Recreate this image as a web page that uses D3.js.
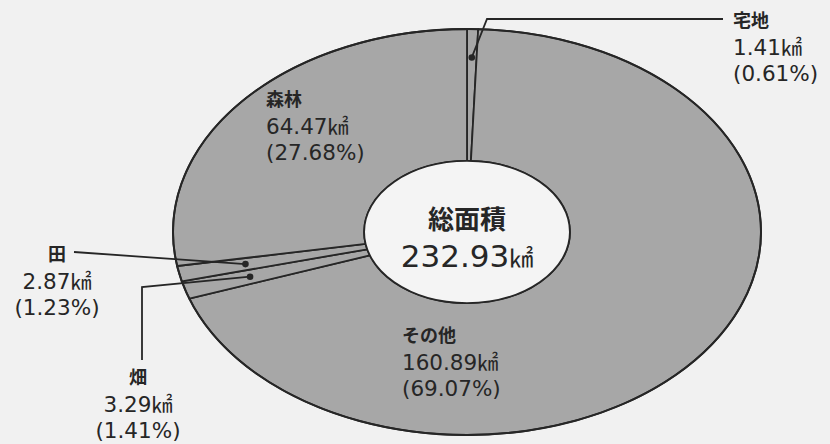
<!DOCTYPE html>
<html><head><meta charset="utf-8">
<script src="https://cdn.jsdelivr.net/npm/d3@7"></script>
<style>
html,body{margin:0;padding:0;background:#f1f1f1;}
svg{display:block;}
</style></head>
<body>
<svg id="chart" width="830" height="444"></svg>
<script>
// ---- data ----
const categories = ["宅地", "その他", "畑", "田", "森林"];
const areas = [1.41, 160.89, 3.29, 2.87, 64.47];
const percents = [0.61, 69.07, 1.41, 1.23, 27.68];
const totalLabel = "総面積";
const totalArea = 232.93;
const unit = "㎢";

// ---- layout ----
const W = 830, H = 444;
const cx = 467, cy = 232, rx = 294, ry = 203;
const R = 100, innerRatio = 0.35;
const bg = "#f1f1f1", fillGrey = "#a7a7a7", ink = "#262626";
const numFont = "'DejaVu Sans', 'Noto Sans CJK JP', sans-serif";
const jpFont = "'Noto Sans CJK JP', sans-serif";

const svg = d3.select("#chart");
svg.append("rect").attr("width", W).attr("height", H).attr("fill", bg);

const data = categories.map((c, i) => ({ name: c, area: areas[i], pct: percents[i] }));
const pie = d3.pie().sort(null).value(d => d.area).startAngle(0).endAngle(2 * Math.PI);
const arcs = pie(data);
const arc = d3.arc().innerRadius(R * innerRatio).outerRadius(R);

// elliptical scaling via linear scales
const sx = d3.scaleLinear().domain([-R, R]).range([cx - rx, cx + rx]);
const sy = d3.scaleLinear().domain([-R, R]).range([cy - ry, cy + ry]);

const g = svg.append("g")
  .attr("transform", `translate(${cx},${cy}) scale(${rx / R},${ry / R})`);

g.selectAll("path.slice").data(arcs).join("path")
  .attr("class", "slice")
  .attr("d", arc)
  .attr("fill", fillGrey)
  .attr("stroke", ink)
  .attr("stroke-width", 1.8)
  .attr("vector-effect", "non-scaling-stroke")
  .attr("stroke-linejoin", "round");

// inner hole
g.append("ellipse").attr("cx", 0).attr("cy", 0)
  .attr("rx", R * innerRatio).attr("ry", R * innerRatio)
  .attr("fill", "#f4f4f4").attr("stroke", ink).attr("stroke-width", 1.8)
  .attr("vector-effect", "non-scaling-stroke");

// outer outline
g.append("ellipse").attr("cx", 0).attr("cy", 0).attr("rx", R).attr("ry", R)
  .attr("fill", "none").attr("stroke", ink).attr("stroke-width", 2)
  .attr("vector-effect", "non-scaling-stroke");

// point on slice mid-angle at fraction f of radius
function midPoint(a, f) {
  const m = (a.startAngle + a.endAngle) / 2;
  return [sx(R * f * Math.sin(m)), sy(-R * f * Math.cos(m))];
}

// label layout (positions only)
const labelLayout = {
  "宅地":  { x: 733, y: 27,  anchor: "start",  dot: 0.86, leader: [[723, 19], [487, 19]] },
  "森林":  { x: 266, y: 106, anchor: "start",  dot: null },
  "田":    { x: 57,  y: 261, anchor: "middle", dot: 0.77, leader: [[74, 252]] },
  "畑":    { x: 138, y: 384, anchor: "middle", dot: 0.77, leader: [[142, 360], [142, 287]] },
  "その他": { x: 402, y: 342, anchor: "start",  dot: null }
};

const lineGap = [0, 27, 53];

arcs.forEach(a => {
  const L = labelLayout[a.data.name];
  if (L.dot) {
    const p = midPoint(a, L.dot);
    const pts = L.leader.concat([p]);
    svg.append("path")
      .attr("d", d3.line()(pts))
      .attr("fill", "none").attr("stroke", ink).attr("stroke-width", 1.8);
    svg.append("circle").attr("cx", p[0]).attr("cy", p[1]).attr("r", 3.3).attr("fill", ink);
  }
  const t = svg.append("text").attr("text-anchor", L.anchor).attr("fill", ink);
  t.append("tspan").attr("x", L.x).attr("y", L.y + lineGap[0])
    .attr("font-family", jpFont).attr("font-weight", 700).attr("font-size", 18)
    .text(a.data.name);
  const l2 = t.append("tspan").attr("x", L.x).attr("y", L.y + lineGap[1] + 1)
    .attr("font-family", numFont).attr("font-size", 21.5);
  l2.append("tspan").text(d3.format(".2f")(a.data.area));
  l2.append("tspan").attr("font-family", jpFont).attr("font-size", 21).text(unit);
  t.append("tspan").attr("x", L.x).attr("y", L.y + lineGap[2] + 1)
    .attr("font-family", numFont).attr("font-size", 21.5)
    .text(`(${d3.format(".2f")(a.data.pct)}%)`);
});

// center label (two separate texts)
svg.append("text").attr("text-anchor", "middle").attr("fill", ink)
  .attr("x", cx).attr("y", 229)
  .attr("font-family", jpFont).attr("font-weight", 700).attr("font-size", 26)
  .text(totalLabel);
const c2 = svg.append("text").attr("text-anchor", "middle").attr("fill", ink)
  .attr("x", cx).attr("y", 267)
  .attr("font-family", numFont).attr("font-size", 31);
c2.append("tspan").text(d3.format(".2f")(totalArea));
c2.append("tspan").attr("font-family", jpFont).attr("font-size", 24).text(unit);
</script>
</body></html>
